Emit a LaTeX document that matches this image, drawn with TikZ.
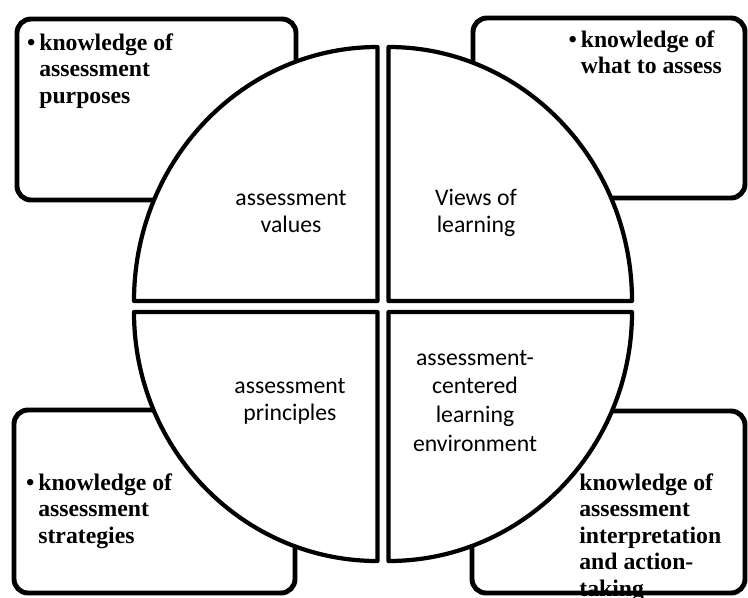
\documentclass[tikz,border=0pt]{standalone}
\usepackage{fontspec}
\newfontfamily\boxfont{Liberation Serif}
\newfontfamily\discfont{Carlito}

\begin{document}
\begin{tikzpicture}[
  panel/.style={line width=2.8pt,rounded corners=0.28cm},
  quarter/.style={line width=2.4pt,fill=white,line join=round},
  know/.style={inner sep=0pt,align=left,anchor=base west,
    font=\boxfont\bfseries\fontsize{13.5}{15}\selectfont},
  part/.style={inner sep=0pt,align=center,anchor=base,
    font=\discfont\fontsize{13.5}{15.3}\selectfont}]

\clip (0,0) rectangle (14.96,-11.94);

% corner texts first, the frames go over them
\node[know] (purposes) at (0.78,-2.06) {\llap{\textbullet\,}knowledge of\\assessment\\purposes};
\node[know] (what) at (11.61,-1.47) {\llap{\textbullet\,}knowledge of\\what to assess};
\node[know] (strategies) at (0.76,-10.86) {\llap{\textbullet\,}knowledge of\\assessment\\strategies};
\node[know] (interp) at (11.58,-11.92) {knowledge of\\assessment\\interpretation\\and action-\\taking};

\draw[panel] (0.34,-0.38) rectangle (5.92,-4.00);
\draw[panel] (9.46,-0.36) rectangle (14.90,-3.96);
\draw[panel] (0.28,-8.20) rectangle (5.90,-11.86);
\draw[panel] (9.44,-8.22) rectangle (14.90,-11.86);

% the split disc
\coordinate (tl) at (7.55,-6.02);
\coordinate (tr) at (7.77,-6.02);
\coordinate (bl) at (7.55,-6.24);
\coordinate (br) at (7.77,-6.24);

\draw[quarter] (tl) -- ++(-4.87,0) arc[start angle=180,end angle=90,x radius=4.87,y radius=5.08] -- cycle;
\draw[quarter] (tr) -- ++(0,5.08) arc[start angle=90,end angle=0,x radius=4.87,y radius=5.08] -- cycle;
\draw[quarter] (bl) -- ++(-4.87,0) arc[start angle=180,end angle=270,x radius=4.87,y radius=4.98] -- cycle;
\draw[quarter] (br) -- ++(4.87,0) arc[start angle=0,end angle=-90,x radius=4.87,y radius=4.98] -- cycle;

\node[part] (values) at (5.82,-4.64) {assessment\\values};
\node[part] (views) at (9.52,-4.64) {Views of\\learning};
\node[part] (principles) at (5.80,-8.40) {assessment\\principles};
\node[part,font=\discfont\fontsize{13.5}{16.3}\selectfont] (env) at (9.50,-9.02) {assessment-\\centered\\learning\\environment};

\end{tikzpicture}
\end{document}
